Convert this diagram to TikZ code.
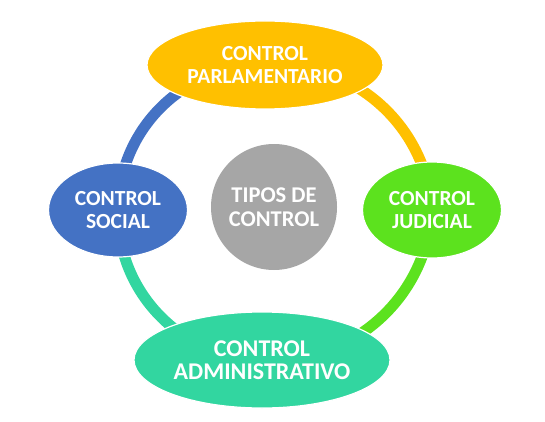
\documentclass[tikz,border=0pt]{standalone}
\usepackage{fontspec}
\setmainfont{Carlito}
\usetikzlibrary{shapes.geometric,backgrounds}

\definecolor{tipoamarillo}{RGB}{255,192,0}
\definecolor{tipoverde}{RGB}{92,226,30}
\definecolor{tipoturquesa}{RGB}{50,214,160}
\definecolor{tipoazul}{RGB}{68,114,196}
\definecolor{tipogris}{RGB}{166,166,166}

\begin{document}
\begin{tikzpicture}[x=1pt, y=-1pt,
    tipo/.style={ellipse, draw=white, line width=1.2pt, inner sep=0pt,
        text=white, align=center, font=\bfseries\fontsize{21.5}{23}\selectfont},
    anillo/.style={line width=11pt}]
        \useasboundingbox (0,0) rectangle (545,422);

        % Central circle
        \node[circle, fill=tipogris, minimum size=126pt, inner sep=0pt, text=white,
            align=center, font=\bfseries\fontsize{22.5}{24}\selectfont] (centro) at (274,207) {TIPOS DE\\CONTROL};

        % The four types of control on the ring
        \node[tipo, fill=tipoamarillo, minimum width=236pt, minimum height=88pt] (parlamentario) at (265,65) {CONTROL\\PARLAMENTARIO};
        \node[tipo, fill=tipoverde, minimum width=139pt, minimum height=96pt] (judicial) at (432,210) {CONTROL\\JUDICIAL};
        \node[tipo, fill=tipoturquesa, minimum width=256pt, minimum height=96pt,
            font=\bfseries\fontsize{24}{23}\selectfont] (administrativo) at (262,360) {CONTROL\\ADMINISTRATIVO};
        \node[tipo, fill=tipoazul, minimum width=139pt, minimum height=94pt] (social) at (118,210) {CONTROL\\SOCIAL};

        % Ring segments, behind the ellipses
        \begin{scope}[on background layer]
            \draw[anillo, tipoamarillo] (parlamentario.center) to[bend left=45] (judicial.center);
            \draw[anillo, tipoverde] (judicial.center) to[bend left=45] (administrativo.center);
            \draw[anillo, tipoturquesa] (administrativo.center) to[bend left=45] (social.center);
            \draw[anillo, tipoazul] (social.center) to[bend left=45] (parlamentario.center);
        \end{scope}
\end{tikzpicture}
\end{document}
